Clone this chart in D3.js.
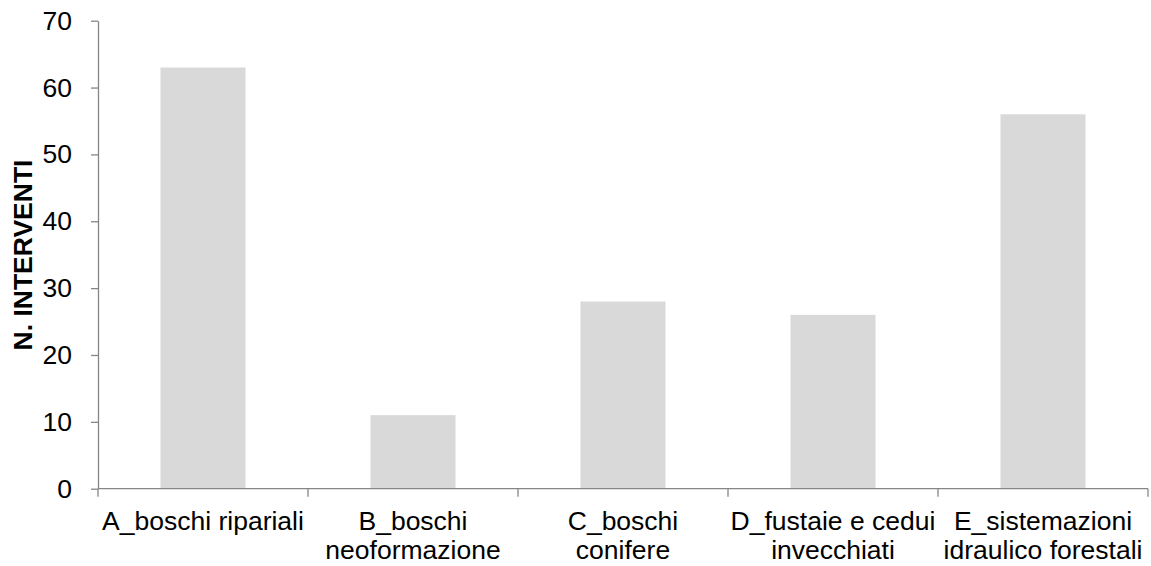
<!DOCTYPE html>
<html>
<head>
<meta charset="utf-8">
<script src="https://cdn.jsdelivr.net/npm/d3@7"></script>
<style>
  html, body { margin: 0; padding: 0; background: #fff; }
  svg { display: block; }
  text { font-family: "Liberation Sans", Arial, sans-serif; fill: #000; }
</style>
</head>
<body>
<svg id="chart" width="1151" height="566"></svg>
<script>
const categories = ["A", "B", "C", "D", "E"];
const categoryLabels = [
  ["A_boschi ripariali"],
  ["B_boschi", "neoformazione"],
  ["C_boschi", "conifere"],
  ["D_fustaie e cedui", "invecchiati"],
  ["E_sistemazioni", "idraulico forestali"]
];
const values = [63, 11, 28, 26, 56];
const yTicks = [0, 10, 20, 30, 40, 50, 60, 70];
const yTitle = "N. INTERVENTI";

(function () {
const svg = d3.select("#chart");
const mLeft = 98, mRight = 1148, mTop = 20.7, mBottom = 488.7;
const axisColor = "#868686";
const fs = 26.5;

const x = d3.scaleBand().domain(categories).range([mLeft, mRight])
  .paddingInner(0.595).paddingOuter(0.2975);
const xb = d3.scaleBand().domain(categories).range([mLeft, mRight]).padding(0);
const y = d3.scaleLinear().domain([0, 70]).range([mBottom, mTop]);

// bars
svg.append("g").selectAll("rect").data(values).join("rect")
  .attr("x", (d, i) => x(categories[i]))
  .attr("width", x.bandwidth())
  .attr("y", d => y(d))
  .attr("height", d => y(0) - y(d))
  .attr("fill", "#d9d9d9");

// y axis
const yAxis = svg.append("g").attr("transform", `translate(${mLeft},0)`)
  .call(d3.axisLeft(y).tickValues(yTicks).tickSize(7).tickPadding(19).tickSizeOuter(0));
yAxis.select(".domain").attr("stroke", axisColor).attr("stroke-width", 1.3);
yAxis.selectAll(".tick line").attr("stroke", axisColor).attr("stroke-width", 1.3);
yAxis.selectAll(".tick text").attr("font-size", fs).attr("font-family", "Liberation Sans, Arial, sans-serif").attr("fill", "#000");

// x axis line + boundary ticks
const xg = svg.append("g");
xg.append("line").attr("x1", mLeft).attr("x2", mRight).attr("y1", y(0)).attr("y2", y(0))
  .attr("stroke", axisColor).attr("stroke-width", 1.3);
const bounds = categories.map(c => xb(c)).concat([xb(categories[categories.length - 1]) + xb.bandwidth()]);
xg.selectAll("line.tk").data(bounds).join("line").attr("class", "tk")
  .attr("x1", d => d).attr("x2", d => d)
  .attr("y1", y(0)).attr("y2", y(0) + 8)
  .attr("stroke", axisColor).attr("stroke-width", 1.3);

// category labels
const lab = svg.append("g").selectAll("text").data(categories).join("text")
  .attr("text-anchor", "middle")
  .attr("font-size", fs)
  .attr("x", c => xb(c) + xb.bandwidth() / 2)
  .attr("y", 530);
lab.each(function(c, i) {
  d3.select(this).selectAll("tspan").data(categoryLabels[i]).join("tspan")
    .attr("x", xb(c) + xb.bandwidth() / 2)
    .attr("dy", (d, j) => j === 0 ? 0 : 28.5)
    .text(d => d);
});

// y title
svg.append("text")
  .attr("transform", `translate(32, 255) rotate(-90)`)
  .attr("text-anchor", "middle")
  .attr("font-size", fs)
  .attr("font-weight", "bold")
  .text(yTitle);
})();
</script>
</body>
</html>
